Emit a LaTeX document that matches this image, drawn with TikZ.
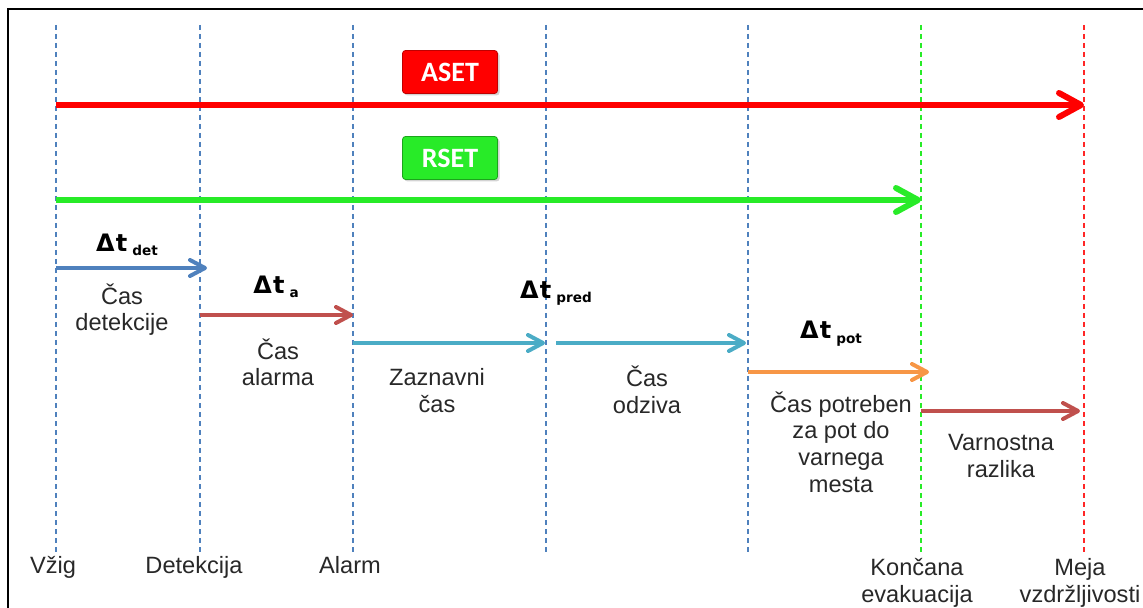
\documentclass[tikz,border=0pt]{standalone}
\usepackage{fontspec}
\setmainfont{Liberation Sans}
\newfontfamily\tagfont{Carlito}
\newfontfamily\symfont{DejaVu Sans}
\usetikzlibrary{arrows.meta, positioning, shadows}

\definecolor{asetred}{RGB}{255,0,0}
\definecolor{rsetgreen}{RGB}{40,235,40}
\definecolor{detblue}{RGB}{79,129,189}
\definecolor{alarmred}{RGB}{192,80,77}
\definecolor{predcyan}{RGB}{75,172,198}
\definecolor{potorange}{RGB}{247,150,70}
\definecolor{textgray}{RGB}{40,40,40}

\tikzset{
milestone/.style={dash pattern=on 2.5pt off 2pt, line width=0.7pt}, % the dashed time marks
phase/.style={line width=2pt, -{Straight Barb[length=7.5pt, width=8pt, line cap=round, line join=round]}}, % one step of the timeline
total/.style={line width=3pt, -{Straight Barb[length=11pt, width=12pt, line cap=round, line join=round]}}, % ASET and RSET
caption/.style={align=center, font=\fontsize{11.8}{13.3}\selectfont, text=textgray, anchor=base, inner sep=0pt}, % grey texts, base = last line
delta/.style={font=\symfont\bfseries\fontsize{12}{14}\selectfont, anchor=base, inner sep=0pt}, % the time symbols
tagbox/.style={minimum width=47.5pt, minimum height=21.5pt, rounded corners=1.5pt, text=white,
  font=\tagfont\bfseries\fontsize{14}{16}\selectfont, drop shadow={opacity=0.35, shadow xshift=1pt, shadow yshift=-1pt}}, % ASET / RSET boxes
}
\newcommand{\deltat}[1]{Δ\kern0.6pt t\kern2.5pt\raisebox{-2pt}{\fontsize{6.8}{7}\selectfont #1}}

\begin{document}
\begin{tikzpicture}[x=0.5pt, y=-0.5pt]
    \useasboundingbox (0,0) rectangle (1143,608);
    \draw[line width=1pt] (1143,9) -- (8,9) -- (8,608);

    % time marks
    \coordinate (vzig) at (56,25);     \coordinate (vzig-b) at (56,553);
    \coordinate (detek) at (200,25);   \coordinate (detek-b) at (200,553);
    \coordinate (alarm) at (353,25);   \coordinate (alarm-b) at (353,553);
    \coordinate (pred) at (546,25);    \coordinate (pred-b) at (546,553);
    \coordinate (odziv) at (748,25);   \coordinate (odziv-b) at (748,553);
    \coordinate (evak) at (921,25);    \coordinate (evak-b) at (921,553);
    \coordinate (meja) at (1084,25);   \coordinate (meja-b) at (1084,553);

    \draw[milestone, detblue] (vzig) -- (vzig-b);
    \draw[milestone, detblue] (detek) -- (detek-b);
    \draw[milestone, detblue] (alarm) -- (alarm-b);
    \draw[milestone, detblue] (pred) -- (pred-b);
    \draw[milestone, detblue] (odziv) -- (odziv-b);
    \draw[milestone, rsetgreen] (evak) -- (evak-b);
    \draw[milestone, asetred!85!white] (meja) -- (meja-b);

    \node[caption] (l-vzig) at (53,573) {Vžig};
    \node[caption] (l-detek) at (194,573) {Detekcija};
    \node[caption] (l-alarm) at (350,573) {Alarm};
    \node[caption] (l-evak) at (917,602) {Končana\\evakuacija};
    \node[caption] (l-meja) at (1080,602) {Meja\\vzdržljivosti};

    % ASET and RSET
    \node[tagbox, fill=asetred, draw=asetred!75!black] (aset) at (450,72) {ASET};
    \node[tagbox, fill=rsetgreen, draw=rsetgreen!70!black] (rset) at (450,158) {RSET};

    \coordinate (aset-s) at (56,105);   \coordinate (aset-e) at (1084,105);
    \coordinate (rset-s) at (56,200);   \coordinate (rset-e) at (921,200);
    \draw[total, asetred] (aset-s) -- (aset-e);
    \draw[total, rsetgreen] (rset-s) -- (rset-e);

    % steps
    \coordinate (det-s) at (56,268);    \coordinate (det-e) at (207,268);
    \coordinate (al-s) at (200,315);    \coordinate (al-e) at (353,315);
    \coordinate (za-s) at (353,343);    \coordinate (za-e) at (545,343);
    \coordinate (od-s) at (556,343);    \coordinate (od-e) at (746,343);
    \coordinate (pot-s) at (748,372);   \coordinate (pot-e) at (929,372);
    \coordinate (var-s) at (921,411);   \coordinate (var-e) at (1080,411);

    \draw[phase, detblue] (det-s) -- (det-e);
    \draw[phase, alarmred] (al-s) -- (al-e);
    \draw[phase, predcyan] (za-s) -- (za-e);
    \draw[phase, predcyan] (od-s) -- (od-e);
    \draw[phase, potorange] (pot-s) -- (pot-e);
    \draw[phase, alarmred] (var-s) -- (var-e);

    \node[delta] (d-det) at (127,252) {\deltat{det}};
    \node[delta] (d-al) at (276,294) {\deltat{a}};
    \node[delta] (d-pred) at (556,299) {\deltat{pred}};
    \node[delta] (d-pot) at (831,339) {\deltat{pot}};

    \node[caption] (c-det) at (122,331) {Čas\\detekcije};
    \node[caption] (c-al) at (278,386) {Čas\\alarma};
    \node[caption] (c-za) at (437,412) {Zaznavni\\čas};
    \node[caption] (c-od) at (647,413) {Čas\\odziva};
    \node[caption] (c-pot) at (841,492) {Čas potreben\\za pot do\\varnega\\mesta};
    \node[caption] (c-var) at (1001,477) {Varnostna\\razlika};
\end{tikzpicture}
\end{document}
